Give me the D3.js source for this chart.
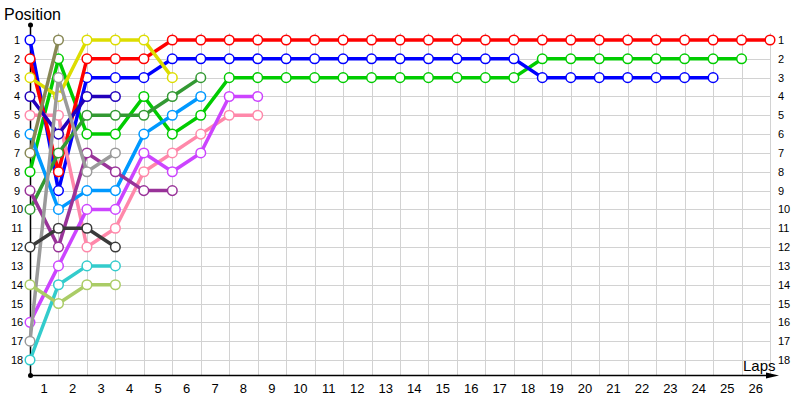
<!DOCTYPE html>
<html>
<head>
<meta charset="utf-8">
<script src="https://cdn.jsdelivr.net/npm/d3@7"></script>
<style>
  html, body { margin: 0; padding: 0; background: #fff; }
  svg { display: block; }
</style>
</head>
<body>
<svg id="chart" width="800" height="400"></svg>
<script>
// ---- data ----
const lapLabels = ["1","2","3","4","5","6","7","8","9","10","11","12","13","14","15","16","17","18","19","20","21","22","23","24","25","26"];
const positionLabels = [1,2,3,4,5,6,7,8,9,10,11,12,13,14,15,16,17,18];

const driverNames = ["Green","Blue","Red","Yellow","Pink","Violet","DarkGreen","SkyBlue","Purple","Navy","Gray","Black","Turquoise","YellowGreen","Olive"];
const driverColors = ["#00cc00","#0000ff","#ff0000","#dddd00","#ff88aa","#cc44ff","#339933","#0099ff","#993399","#2200bb","#9a9a9a","#3a3a3a","#33cccc","#aacc66","#888855"];

const posGreen       = [8,2,6,6,4,6,5,3,3,3,3,3,3,3,3,3,3,3,2,2,2,2,2,2,2,2];
const posBlue        = [1,9,3,3,3,2,2,2,2,2,2,2,2,2,2,2,2,2,3,3,3,3,3,3,3];
const posRed         = [2,8,2,2,2,1,1,1,1,1,1,1,1,1,1,1,1,1,1,1,1,1,1,1,1,1,1];
const posYellow      = [3,4,1,1,1,3];
const posPink        = [5,5,12,11,8,7,6,5,5];
const posViolet      = [16,13,10,10,7,8,7,4,4];
const posDarkGreen   = [10,7,5,5,5,4,3];
const posSkyBlue     = [6,10,9,9,6,5,4];
const posPurple      = [9,12,7,8,9,9];
const posNavy        = [4,6,4,4];
const posGray        = [17,3,8,7];
const posBlack       = [12,11,11,12];
const posTurquoise   = [18,14,13,13];
const posYellowGreen = [14,15,14,14];
const posOlive       = [7,1];

const driverPositions = [posGreen,posBlue,posRed,posYellow,posPink,posViolet,posDarkGreen,posSkyBlue,posPurple,posNavy,posGray,posBlack,posTurquoise,posYellowGreen,posOlive];

// ---- chart ----
const svg = d3.select("#chart");
const x = d3.scaleLinear().domain([0, lapLabels.length]).range([30, 770]);
const y = d3.scaleLinear().domain([1, positionLabels.length]).range([40, 360]);
const axisY = 375;

const grid = svg.append("g").attr("stroke", "#d2d2d2").attr("stroke-width", 1);
// horizontal grid
grid.selectAll("line.h").data(positionLabels).join("line")
  .attr("x1", 30).attr("x2", x(lapLabels.length))
  .attr("y1", d => Math.round(y(d)) + 0.5).attr("y2", d => Math.round(y(d)) + 0.5);
// vertical grid
grid.selectAll("line.v").data(lapLabels).join("line")
  .attr("x1", (d, i) => Math.round(x(i + 1)) + 0.5).attr("x2", (d, i) => Math.round(x(i + 1)) + 0.5)
  .attr("y1", 33).attr("y2", axisY);

// axes
const axes = svg.append("g");
axes.append("line").attr("x1", 30.5).attr("x2", 30.5).attr("y1", 25).attr("y2", axisY)
  .attr("stroke", "#000").attr("stroke-width", 1.5);
axes.append("line").attr("x1", 30).attr("x2", 772).attr("y1", axisY + 0.5).attr("y2", axisY + 0.5)
  .attr("stroke", "#000").attr("stroke-width", 1.5);
axes.append("path").attr("d", `M766,${axisY - 2.5} L779,${axisY + 0.5} L766,${axisY + 3.5} Z`).attr("fill", "#000");
axes.append("circle").attr("cx", 30.5).attr("cy", 25).attr("r", 2.5).attr("fill", "#000");
axes.append("circle").attr("cx", 30.5).attr("cy", axisY + 0.5).attr("r", 2.5).attr("fill", "#000");

// tick labels
const fontFam = "'Liberation Sans', Arial, sans-serif";
svg.append("g").selectAll("text").data(lapLabels).join("text")
  .attr("x", (d, i) => x(i + 0.5)).attr("y", 393)
  .attr("text-anchor", "middle").attr("font-family", fontFam).attr("font-size", 13)
  .attr("fill", "#000").text(d => d);
svg.append("g").selectAll("text").data(positionLabels).join("text")
  .attr("x", 17).attr("y", d => y(d) + 4)
  .attr("text-anchor", "middle").attr("font-family", fontFam).attr("font-size", 11)
  .attr("fill", "#000").text(d => d);
svg.append("g").selectAll("text").data(positionLabels).join("text")
  .attr("x", 778).attr("y", d => y(d) + 4)
  .attr("text-anchor", "start").attr("font-family", fontFam).attr("font-size", 11)
  .attr("fill", "#000").text(d => d);

svg.append("text").attr("x", 4).attr("y", 20).attr("font-family", fontFam).attr("font-size", 16)
  .attr("fill", "#000").text("Position");
svg.append("text").attr("x", 743).attr("y", 371).attr("font-family", fontFam).attr("font-size", 15)
  .attr("fill", "#000").text("Laps");

// series
const line = d3.line().x((d, i) => x(i)).y(d => y(d));
driverPositions.forEach((vals, k) => {
  const g = svg.append("g").attr("class", "series").attr("data-name", driverNames[k]);
  g.append("path").datum(vals).attr("d", line)
    .attr("fill", "none").attr("stroke", driverColors[k]).attr("stroke-width", 3.5)
    .attr("stroke-linejoin", "round");
  g.selectAll("circle").data(vals).join("circle")
    .attr("cx", (d, i) => x(i)).attr("cy", d => y(d)).attr("r", 4.8)
    .attr("fill", "#fff").attr("stroke", driverColors[k]).attr("stroke-width", 1.5);
});
</script>
</body>
</html>
